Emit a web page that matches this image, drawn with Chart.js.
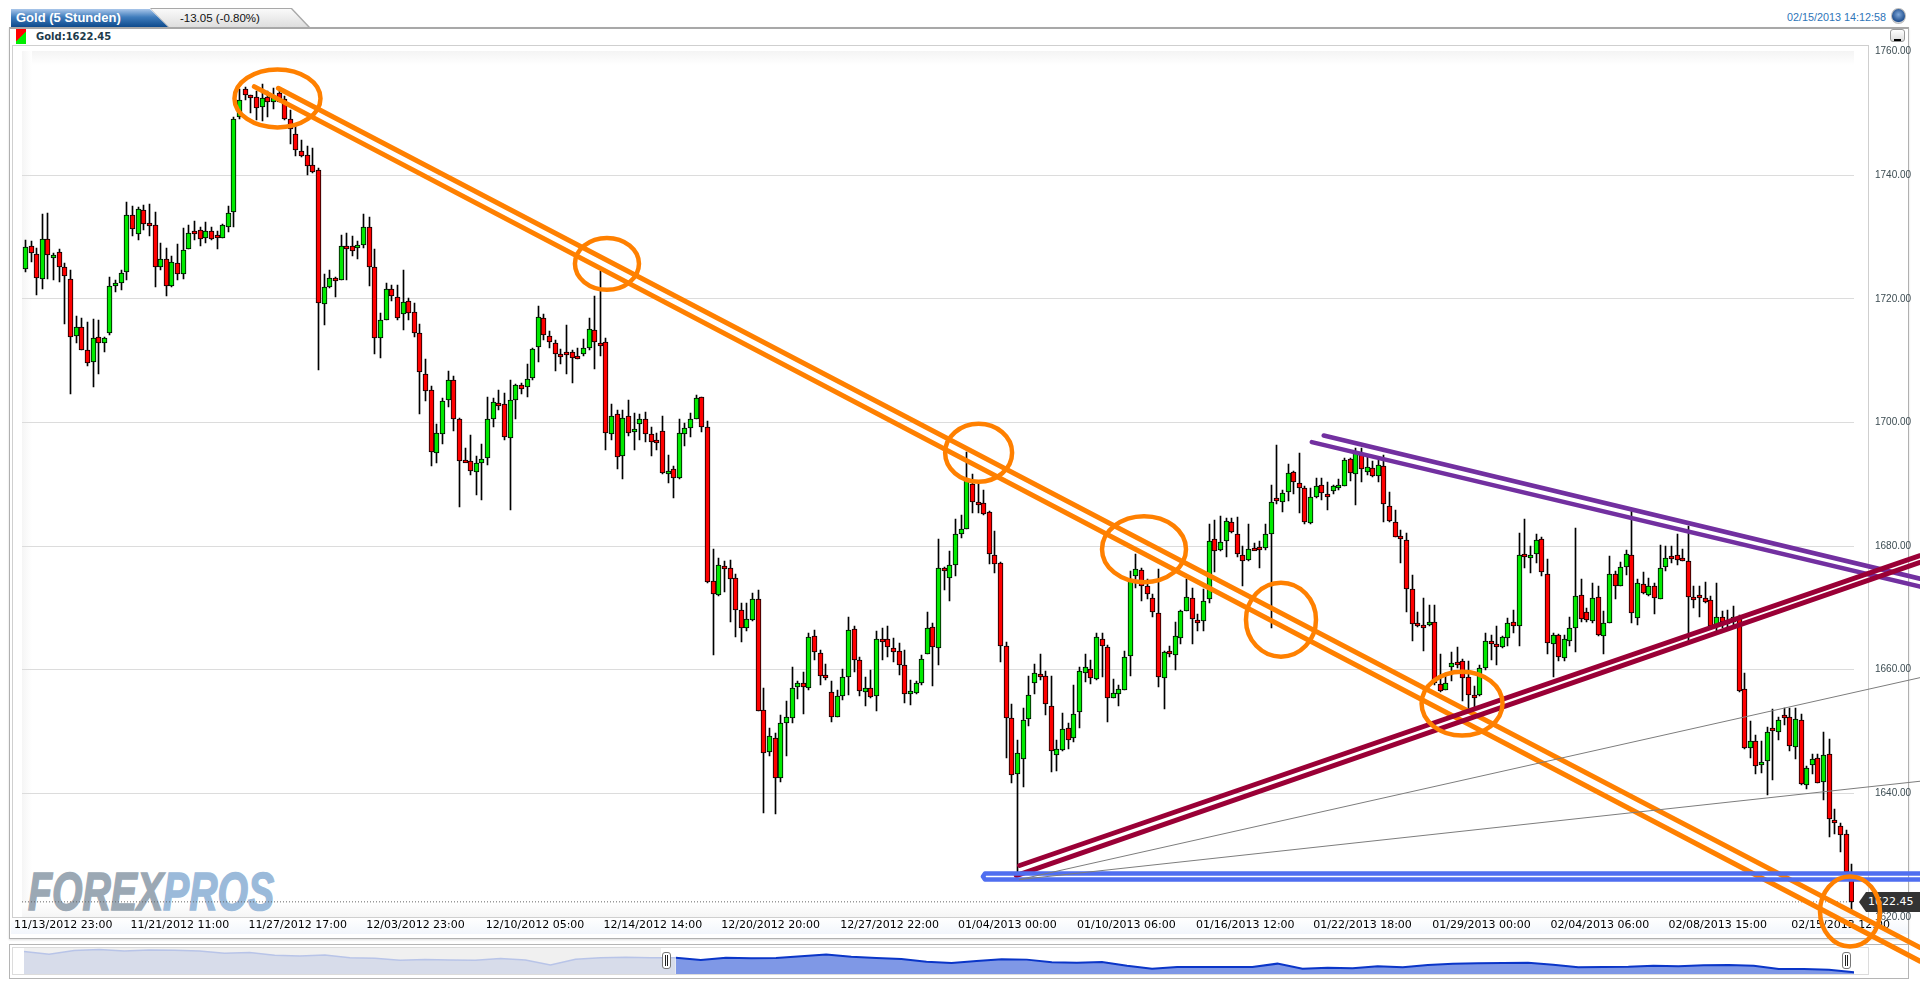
<!DOCTYPE html>
<html lang="de">
<head>
<meta charset="UTF-8">
<title>Gold (5 Stunden)</title>
<style>
html, body { margin: 0; padding: 0; background: #fff; width: 1920px; height: 987px; overflow: hidden; }
.abs { position: absolute; box-sizing: border-box; }
canvas { position: absolute; display: block; }
#tab1 { left: 11px; top: 9px; width: 157px; height: 18px; background: linear-gradient(#a9c6ea, #3f7cbc 45%, #0e4a8c); clip-path: polygon(0 0, 139px 0, 157px 18px, 0 18px); }
#tab2 { left: 150px; top: 8px; width: 160px; height: 19px; background: #a8a8a8; clip-path: polygon(0 0, 142px 0, 160px 19px, 18px 19px); }
#tab2 i { position: absolute; left: 1px; top: 1px; width: 157px; height: 18px; background: linear-gradient(#fafafa, #dedede); clip-path: polygon(0 0, 140px 0, 157px 18px, 18px 18px); }
.tabtxt { font-family: "Liberation Sans", sans-serif; white-space: nowrap; line-height: 18px; }
#plotTop { left: 22px; top: 51px; width: 1832px; height: 14px; background: linear-gradient(#f4f4f4, #fff); }
#plotLeft { left: 22px; top: 51px; width: 10px; height: 866px; background: linear-gradient(90deg, #f5f5f5, #fff); }
#plotBottom { left: 22px; top: 903px; width: 1832px; height: 14px; background: linear-gradient(#fff, #f5f5f5); }
#axisStrip { left: 11px; top: 918px; width: 1897px; height: 16px; background: linear-gradient(#fff, #f2f6fc); }
#tag { left: 1859px; top: 892px; width: 61px; height: 20px; background: #333; clip-path: polygon(0 50%, 7px 0, 100% 0, 100% 100%, 7px 100%); color: #fff; font: 11px/20px "DejaVu Sans", sans-serif; padding-left: 9px; }
.handle { width: 9px; height: 17px; top: 952px; background: #fff; border: 1px solid #777; border-radius: 3px; }
.handle::after { content: ""; position: absolute; left: 2px; top: 2px; width: 1px; height: 11px; border-left: 1px solid #222; border-right: 1px solid #222; }
</style>
</head>
<body>
<div class="abs" style="left:9px;top:27px;width:1900px;height:912px;border:1px solid #b0b0b0;border-top:2px solid #a8a8a8;box-shadow:0 1px 2px #ddd"></div>
<div class="abs" style="left:12px;top:45px;width:1857px;height:873px;border:1px solid #cfcfcf"></div>
<div class="abs" id="plotTop"></div>
<div class="abs" id="plotLeft"></div>
<div class="abs" id="plotBottom"></div>
<div class="abs" id="axisStrip"></div>
<div class="abs" id="tab2"><i></i></div>
<div class="abs" id="tab1"></div>
<div class="abs tabtxt" style="left:16px;top:9px;color:#fff;font-weight:bold;font-size:13px">Gold (5 Stunden)</div>
<div class="abs tabtxt" style="left:180px;top:9px;color:#111;font-size:11.5px">-13.05 (-0.80%)</div>
<div class="abs" style="left:16px;top:29px;width:10px;height:15px;background:linear-gradient(135deg,#f00 50%,#0e0 50%)"></div>
<div class="abs" style="left:36px;top:30px;font:bold 10px/13px 'DejaVu Sans',sans-serif;color:#1d3a4a;white-space:nowrap">Gold:1622.45</div>
<div class="abs" style="left:1787px;top:10px;font:10.8px/15px 'Liberation Sans',sans-serif;color:#2d74b8;white-space:nowrap">02/15/2013 14:12:58</div>
<div class="abs" style="left:1891px;top:8px;width:15px;height:16px;border-radius:50%;border:1px solid #bbb;background:radial-gradient(circle at 50% 40%,#7fa8da,#22508f 65%,#cfd6de 75%)"></div>
<div class="abs" style="left:1890px;top:29px;width:15px;height:13px;border:1px solid #999;border-radius:3px;background:linear-gradient(#fff,#ddd)"><div style="position:absolute;left:3px;top:9px;width:7px;height:2px;background:#000"></div></div>
<div class="abs" style="left:28px;top:866px;white-space:nowrap;font:italic bold 53px/52px 'Liberation Sans',sans-serif;transform-origin:0 0;transform:scaleX(0.74)"><span style="color:#9ba8b4;-webkit-text-stroke:1.5px #9ba8b4">FOREX</span><span style="color:#9bbada;-webkit-text-stroke:1.5px #9bbada">PROS</span></div>
<div class="abs" id="tag">1622.45</div>

<div class="abs" style="left:9px;top:944px;width:1900px;height:35px;border:1px solid #b5b5b5"></div>
<div class="abs" style="left:12px;top:947px;width:1857px;height:28px;border:1px solid #dcdcdc"></div>
<div class="abs" style="left:24px;top:948px;width:637px;height:26px;background:#f0f0f0"></div>
<canvas id="nav" width="1830" height="27" style="left:24px;top:947px"></canvas>
<div class="abs handle" style="left:662px"></div>
<div class="abs handle" style="left:1842px"></div>
<canvas id="chart" width="1920" height="987" style="left:0;top:0"></canvas>

<script src="https://cdn.jsdelivr.net/npm/chart.js"></script>
<script>
// candles, 5 hour bars
const opens = [
1724.8,1728.5,1727.2,1723.2,1729.7,1726.6,1727.5,1725.2,1723.2,1714.0,
1715.4,1711.7,1709.8,1713.8,1712.8,1714.4,1722.0,1722.6,1724.4,1733.6,
1730.5,1734.3,1732.3,1732.0,1725.1,1726.4,1722.0,1725.8,1724.0,1728.1,
1731.0,1731.2,1729.8,1731.0,1730.3,1729.9,1731.7,1734.0,1749.4,1754.0,
1753.0,1752.7,1751.0,1752.6,1751.9,1753.3,1752.4,1749.1,1746.7,1743.9,
1743.3,1741.6,1740.9,1719.2,1721.9,1723.4,1723.1,1728.6,1728.6,1728.2,
1728.7,1731.6,1725.1,1713.6,1716.6,1721.6,1720.3,1717.6,1719.7,1717.9,
1714.5,1707.9,1705.3,1695.1,1698.2,1703.6,1706.8,1700.6,1693.9,1693.8,
1692.0,1693.5,1694.3,1700.5,1703.1,1703.0,1697.5,1703.6,1706.0,1705.8,
1707.2,1712.2,1716.9,1714.0,1712.8,1711.1,1711.4,1711.4,1710.7,1711.1,
1712.1,1714.9,1712.9,1713.0,1698.2,1701.3,1694.6,1701.0,1698.6,1699.7,
1700.6,1698.2,1697.1,1698.6,1691.9,1692.5,1691.1,1698.2,1699.1,1700.6,
1704.1,1699.3,1674.4,1672.1,1676.8,1676.5,1674.8,1669.7,1666.8,1668.0,
1671.5,1653.5,1646.7,1648.9,1642.5,1651.4,1652.2,1657.2,1657.9,1657.1,
1665.4,1662.7,1659.2,1656.4,1652.4,1655.7,1658.9,1666.6,1661.5,1656.4,
1657.1,1655.7,1664.9,1665.0,1663.5,1663.0,1660.8,1656.0,1656.3,1657.9,
1662.6,1666.9,1663.5,1676.4,1674.8,1676.9,1682.0,1682.8,1690.1,1687.1,
1686.9,1685.5,1678.6,1677.3,1663.9,1652.2,1643.2,1645.6,1652.1,1657.8,
1659.3,1659.0,1654.2,1646.2,1647.0,1650.6,1648.9,1653.1,1659.5,1660.1,
1658.5,1665.0,1663.7,1655.4,1656.0,1656.8,1662.2,1675.1,1676.2,1673.6,
1671.6,1669.2,1658.7,1663.1,1662.4,1665.2,1669.5,1671.6,1668.1,1667.9,
1671.4,1681.2,1679.3,1680.8,1683.9,1682.0,1678.6,1677.8,1679.7,1679.8,
1679.7,1682.0,1687.8,1687.2,1688.8,1692.0,1690.2,1689.4,1683.7,1687.9,
1689.9,1688.5,1688.9,1689.4,1689.7,1694.1,1691.6,1694.8,1692.0,1692.6,
1691.3,1693.0,1686.5,1683.9,1681.6,1681.0,1673.1,1667.6,1667.3,1667.3,
1667.8,1657.7,1656.8,1660.4,1661.2,1661.4,1658.9,1655.9,1655.9,1660.3,
1664.7,1664.2,1663.6,1665.2,1667.7,1667.0,1678.7,1678.3,1678.7,1681.2,
1675.5,1664.2,1665.7,1661.9,1664.6,1666.8,1672.1,1669.4,1667.9,1671.8,
1665.5,1667.6,1675.5,1673.6,1676.7,1678.6,1668.3,1673.9,1672.1,1673.6,
1671.5,1676.6,1678.4,1678.5,1678.1,1677.6,1671.8,1672.1,1671.6,1671.3,
1667.3,1668.5,1667.9,1667.8,1668.6,1656.9,1647.4,1648.5,1644.6,1645.2,
1650.5,1649.9,1652.7,1652.4,1647.5,1651.9,1641.4,1644.6,1645.7,1641.8,
1646.4,1635.7,1634.8,1633.5,1627.2];
const closes = [
1728.4,1727.4,1723.3,1729.7,1727.1,1727.1,1725.1,1723.7,1713.9,1715.4,
1711.8,1709.6,1713.6,1712.8,1713.6,1722.1,1722.5,1724.2,1733.6,1731.3,
1734.5,1732.1,1732.1,1725.2,1726.4,1722.0,1725.9,1724.0,1727.9,1730.7,
1730.8,1729.7,1731.0,1729.7,1729.8,1732.0,1733.9,1749.1,1752.2,1752.9,
1752.7,1750.8,1752.5,1751.9,1752.5,1751.9,1749.1,1747.4,1744.1,1743.1,
1741.5,1740.6,1719.3,1721.9,1723.4,1722.9,1728.5,1728.4,1727.7,1728.7,
1731.6,1725.2,1713.6,1716.6,1721.6,1720.4,1716.9,1719.5,1717.7,1714.4,
1708.2,1705.1,1695.2,1698.3,1703.5,1706.9,1700.6,1693.7,1693.7,1692.1,
1693.5,1694.1,1700.6,1703.3,1702.9,1697.6,1703.6,1706.1,1705.4,1707.0,
1711.9,1717.1,1714.1,1713.0,1711.1,1710.9,1711.1,1710.5,1710.5,1712.1,
1715.1,1713.0,1712.8,1698.3,1701.0,1694.4,1700.8,1698.3,1699.0,1700.6,
1698.1,1696.9,1697.0,1691.9,1692.2,1691.1,1698.3,1699.1,1700.6,1704.0,
1699.2,1674.2,1672.2,1676.9,1676.4,1674.7,1669.6,1666.8,1668.2,1671.5,
1653.4,1646.6,1649.3,1642.5,1651.4,1652.4,1657.0,1657.9,1657.2,1665.3,
1662.8,1659.0,1659.1,1652.4,1655.7,1658.9,1666.5,1661.5,1656.5,1657.1,
1655.6,1665.0,1664.8,1663.6,1662.8,1660.7,1656.0,1656.6,1657.8,1661.8,
1666.8,1663.7,1676.5,1676.0,1676.9,1682.0,1682.8,1690.8,1687.2,1687.0,
1685.2,1678.7,1677.1,1663.9,1652.2,1642.9,1646.6,1651.9,1655.9,1659.5,
1659.2,1654.4,1646.9,1647.2,1650.4,1648.7,1652.9,1659.8,1660.4,1658.6,
1665.3,1663.8,1655.4,1656.3,1656.9,1662.1,1674.6,1676.3,1673.6,1672.3,
1669.3,1658.8,1662.9,1662.6,1665.4,1669.5,1671.8,1668.2,1668.0,1671.1,
1680.9,1679.2,1680.7,1684.0,1682.3,1678.7,1677.6,1679.6,1679.6,1679.5,
1682.0,1687.2,1687.4,1688.6,1691.8,1690.4,1689.4,1683.9,1688.0,1689.7,
1688.6,1688.4,1689.7,1689.9,1693.9,1691.8,1695.0,1692.5,1692.8,1691.4,
1693.2,1686.8,1684.0,1681.5,1681.2,1673.1,1667.4,1667.0,1667.2,1667.8,
1657.9,1656.5,1657.9,1661.1,1661.0,1658.6,1655.9,1655.8,1660.3,1664.7,
1664.1,1663.7,1665.3,1667.6,1667.0,1678.5,1678.6,1678.6,1681.0,1675.8,
1664.4,1665.7,1662.1,1664.9,1666.8,1671.9,1668.2,1668.0,1671.6,1665.7,
1667.6,1675.5,1673.6,1676.6,1678.7,1669.2,1674.0,1672.4,1673.5,1671.6,
1676.4,1678.1,1678.3,1677.8,1677.7,1671.8,1671.7,1671.7,1671.0,1667.0,
1668.6,1667.7,1667.8,1668.6,1656.5,1647.4,1648.5,1644.5,1645.0,1650.0,
1650.1,1651.9,1652.2,1647.7,1652.0,1641.5,1644.1,1645.6,1641.7,1646.2,
1635.9,1635.4,1633.3,1627.2,1622.45];
const highs = [
1729.5,1729.3,1728.2,1733.8,1733.9,1727.4,1728.0,1725.8,1724.7,1717.3,
1716.9,1716.2,1716.8,1716.5,1713.8,1723.6,1723.1,1724.6,1735.6,1735.0,
1734.9,1735.2,1735.4,1734.0,1729.1,1728.2,1726.9,1728.8,1731.4,1731.9,
1732.6,1731.7,1732.4,1731.7,1730.9,1732.1,1735.0,1749.5,1753.9,1754.3,
1753.0,1753.6,1754.8,1753.6,1754.1,1753.8,1752.8,1750.6,1748.2,1745.7,
1744.8,1744.4,1741.2,1724.0,1724.6,1723.6,1730.4,1730.7,1730.2,1729.3,
1733.7,1733.2,1728.0,1717.7,1722.6,1722.3,1722.3,1724.6,1720.1,1719.4,
1716.0,1710.2,1705.9,1699.7,1704.0,1708.3,1707.6,1700.8,1695.9,1697.9,
1694.5,1696.6,1704.2,1704.0,1705.3,1704.7,1706.8,1706.3,1706.4,1709.4,
1712.1,1718.9,1717.6,1714.8,1713.4,1711.9,1715.8,1711.8,1712.1,1713.5,
1716.9,1720.4,1724.5,1713.6,1703.0,1702.1,1702.0,1703.7,1701.6,1701.3,
1701.7,1699.3,1698.3,1701.0,1694.7,1693.0,1700.6,1699.9,1701.6,1704.5,
1704.2,1700.3,1679.5,1678.0,1677.6,1677.8,1675.5,1670.8,1670.8,1672.4,
1672.9,1657.1,1650.6,1649.8,1652.6,1655.0,1660.4,1658.2,1659.7,1665.9,
1666.5,1663.2,1660.9,1658.2,1656.8,1660.1,1668.5,1667.1,1662.1,1658.9,
1659.9,1666.2,1666.7,1667.0,1665.2,1664.3,1663.2,1658.4,1658.2,1662.4,
1669.3,1667.6,1681.1,1676.7,1679.2,1684.4,1685.1,1695.3,1691.7,1690.5,
1689.0,1685.6,1682.4,1677.4,1664.5,1654.5,1648.7,1653.8,1659.0,1661.0,
1662.6,1659.8,1659.0,1648.6,1653.0,1651.4,1657.6,1660.4,1662.6,1661.5,
1665.9,1665.9,1664.0,1658.5,1657.6,1663.0,1675.9,1678.8,1676.5,1674.6,
1672.2,1676.3,1663.0,1663.8,1667.8,1669.7,1674.6,1673.3,1669.0,1673.1,
1683.6,1684.3,1684.9,1684.5,1684.5,1684.7,1680.0,1683.5,1680.5,1680.9,
1683.6,1689.9,1696.3,1689.1,1693.3,1692.2,1695.0,1689.7,1689.4,1691.1,
1691.0,1690.4,1689.9,1690.8,1694.3,1694.3,1695.9,1695.9,1694.5,1693.7,
1694.0,1694.8,1688.7,1685.8,1682.6,1682.1,1675.3,1669.3,1671.6,1670.5,
1670.5,1662.6,1659.5,1662.9,1663.7,1661.7,1661.4,1657.4,1660.7,1665.9,
1665.7,1667.0,1665.5,1668.4,1669.7,1682.1,1684.4,1680.0,1681.9,1681.5,
1677.9,1665.9,1665.8,1665.7,1668.6,1682.9,1674.7,1670.0,1674.0,1673.5,
1669.5,1678.4,1675.9,1677.4,1679.4,1685.6,1674.6,1675.8,1674.8,1674.0,
1680.1,1680.0,1680.0,1682.0,1679.6,1683.3,1673.6,1673.6,1674.2,1671.9,
1674.0,1669.5,1669.7,1670.3,1668.9,1659.5,1651.7,1649.4,1648.4,1650.7,
1653.6,1652.4,1653.8,1653.8,1653.8,1652.8,1644.4,1646.3,1646.3,1649.9,
1648.8,1637.4,1635.2,1634.1,1628.6];
const lows = [
1724.4,1726.0,1720.6,1721.6,1723.2,1723.1,1722.8,1716.0,1704.6,1712.8,
1711.7,1709.1,1705.7,1707.9,1711.4,1714.2,1721.1,1721.4,1723.1,1730.1,
1729.5,1731.2,1730.1,1721.9,1724.6,1720.4,1721.9,1723.1,1723.2,1728.0,
1729.6,1728.5,1729.0,1729.6,1728.1,1729.8,1730.8,1731.7,1749.1,1752.1,
1750.0,1748.9,1748.7,1749.5,1750.7,1751.8,1749.0,1745.1,1743.1,1743.0,
1740.1,1740.4,1708.5,1715.8,1721.7,1720.3,1723.0,1723.0,1726.9,1726.4,
1728.2,1722.0,1711.0,1710.5,1716.5,1719.6,1716.5,1714.9,1716.5,1713.9,
1701.3,1703.4,1692.9,1693.5,1696.6,1702.5,1698.6,1686.3,1693.6,1691.5,
1688.3,1687.4,1693.2,1699.3,1702.0,1697.2,1685.8,1700.5,1704.6,1704.2,
1706.8,1709.8,1713.4,1712.1,1708.3,1709.5,1707.9,1706.4,1710.2,1710.7,
1711.8,1708.7,1710.7,1695.6,1697.1,1692.4,1690.9,1697.8,1695.5,1697.2,
1696.9,1694.6,1695.6,1691.7,1690.2,1687.8,1690.9,1696.2,1697.6,1700.5,
1698.4,1674.0,1662.4,1671.9,1672.6,1667.7,1665.3,1664.5,1666.3,1667.9,
1653.3,1636.9,1646.0,1636.6,1641.8,1646.1,1651.4,1655.3,1652.8,1656.8,
1661.6,1657.6,1658.3,1651.5,1652.3,1655.1,1655.9,1659.6,1655.7,1654.1,
1655.4,1653.4,1661.6,1662.1,1661.3,1659.2,1654.6,1654.3,1656.0,1657.6,
1662.5,1657.3,1660.7,1672.9,1671.1,1675.1,1681.3,1682.7,1685.3,1685.3,
1685.1,1677.1,1675.6,1661.3,1645.7,1641.7,1626.7,1641.0,1650.9,1656.0,
1658.4,1652.6,1643.5,1643.7,1646.9,1647.2,1648.3,1650.6,1658.0,1657.7,
1658.4,1658.8,1651.5,1655.4,1654.1,1656.7,1659.0,1673.2,1671.1,1671.4,
1668.6,1657.2,1653.6,1662.1,1659.9,1664.1,1669.5,1664.1,1666.3,1666.2,
1670.8,1675.8,1679.2,1678.3,1682.1,1678.3,1673.5,1677.6,1679.4,1676.5,
1679.4,1666.8,1686.8,1685.5,1687.3,1688.5,1685.4,1683.5,1683.6,1687.8,
1687.5,1685.8,1688.5,1689.1,1689.7,1690.6,1686.6,1690.3,1691.5,1691.2,
1690.3,1683.9,1683.9,1681.4,1677.2,1669.3,1664.6,1666.9,1663.0,1667.1,
1657.6,1656.4,1656.7,1658.2,1660.3,1654.9,1653.6,1654.0,1655.7,1660.0,
1661.5,1660.8,1663.5,1663.8,1665.9,1663.9,1676.4,1675.7,1677.2,1675.2,
1662.6,1658.8,1661.4,1661.4,1663.8,1662.8,1667.8,1667.8,1667.6,1665.5,
1662.6,1667.5,1671.4,1673.5,1675.4,1667.6,1667.3,1672.3,1671.9,1669.0,
1671.4,1675.9,1677.3,1677.0,1677.6,1664.6,1670.0,1668.6,1670.8,1666.8,
1665.9,1666.8,1666.8,1667.3,1656.4,1647.1,1645.7,1643.1,1643.3,1639.8,
1642.1,1648.7,1651.1,1646.9,1645.5,1641.4,1640.7,1643.1,1641.6,1639.0,
1633.0,1633.4,1630.5,1627.1,1621.2];

const lastPrice = 1622.45;
const priceTicks = [1760, 1740, 1720, 1700, 1680, 1660, 1640, 1620];
const timeTickBars = [6.8, 27.5, 48.4, 69.3, 90.5, 111.4, 132.3, 153.4, 174.3, 195.4, 216.5, 237.3, 258.4, 279.4, 300.3, 322.1];
const timeTickLabels = ['11/13/2012 23:00', '11/21/2012 11:00', '11/27/2012 17:00', '12/03/2012 23:00', '12/10/2012 05:00', '12/14/2012 14:00', '12/20/2012 20:00', '12/27/2012 22:00', '01/04/2013 00:00', '01/10/2013 06:00', '01/16/2013 12:00', '01/22/2013 18:00', '01/29/2013 00:00', '02/04/2013 06:00', '02/08/2013 15:00', '02/15/2013 12:00'];

// hand drawn trend lines: [bar, price] pairs
const orangeUpper = [[44.97, 1754.07], [336.19, 1615.07]];
const orangeLower = [[40.70, 1754.33], [336.19, 1612.85]];
const crimsonUpper = [[176.46, 1628.33], [336.19, 1678.45]];
const crimsonLower = [[175.87, 1626.71], [336.19, 1677.36]];
const purpleUpper = [[230.41, 1697.90], [336.19, 1674.73]];
const purpleLower = [[228.30, 1696.83], [336.19, 1673.44]];
const blueChannel = [[336.19, 1627.03], [170.32, 1627.03], [169.96, 1626.55], [170.32, 1626.06], [336.19, 1626.06]];
const grayUpper = [[176.46, 1626.06], [336.19, 1658.72]];
const grayLower = [[176.46, 1626.06], [336.19, 1641.96]];

// hand drawn circles
const circleBars = [44.81, 103.26, 169.19, 198.53, 222.83, 254.95, 323.77];
const circlePrices = [1752.42, 1725.66, 1695.10, 1679.50, 1668.10, 1654.52, 1620.89];
const circleBarRadius = [7.63, 5.68, 5.94, 7.45, 6.21, 7.18, 5.32];
const circlePriceRadius = [4.69, 4.20, 4.69, 5.34, 5.98, 5.17, 5.66];

// overview strip below the chart
const navPrices = [
1771.3,1752.4,1778.4,1785.5,1776,1783,1780.7,1776,1759.5,1765.4,
1745.3,1740.6,1747.7,1728.7,1724,1709.9,1714.6,1712.2,1709.9,1721.7,
1712.2,1676.8,1716.9,1728.7,1731.1,1728.7,1728.7,1712.2,1728.7,1724,
1726.4,1738.2,1750,1735.8,1726.4,1719.3,1700.4,1691,1705.1,1716.9,
1714.6,1695.7,1693.3,1698,1672,1650.8,1662.6,1662.6,1662.6,1662.6,
1686.2,1650.8,1657.9,1653.1,1667.3,1660.2,1676.8,1686.2,1688.6,1691,
1693.3,1679.1,1660.2,1662.6,1665,1672,1667.3,1674.4,1676.8,1672,
1648.4,1648.4,1643.7,1624.8];
const navSplit = 26;

const bars = opens.map((_, i) => i);
const bodyColors = opens.map((o, i) => closes[i] >= o ? '#00ea00' : '#ff0000');

function lineSet(points, color, width) {
  return {
    type: 'line',
    data: points.map(p => ({ x: p[0], y: p[1] })),
    borderColor: color,
    borderWidth: width,
    pointRadius: 0,
    tension: 0,
    clip: false,
    order: 10,
    borderCapStyle: 'round',
    borderJoinStyle: 'round'
  };
}

// keeps wicks and bodies on whole pixels, the original is not anti aliased
const snapBars = {
  id: 'snapBars',
  afterDatasetsUpdate(chart) {
    chart.data.datasets.forEach((ds, n) => {
      const meta = chart.getDatasetMeta(n);
      if (meta.type !== 'bar') return;
      meta.data.forEach(el => {
        el.x = Math.round(el.x) + 0.5;
        el.y = Math.round(el.y);
        el.base = Math.round(el.base);
        if (ds.minBody && Math.abs(el.base - el.y) < ds.minBody) el.base = el.y + ds.minBody;
      });
    });
  }
};

const circles = {
  id: 'circles',
  afterDatasetsDraw(chart) {
    const x = chart.scales.x, y = chart.scales.y, ctx = chart.ctx;
    ctx.save();
    ctx.strokeStyle = '#ff8000';
    ctx.lineWidth = 4.5;
    circleBars.forEach((b, i) => {
      const cx = x.getPixelForValue(b), cy = y.getPixelForValue(circlePrices[i]);
      const rx = Math.abs(x.getPixelForValue(b + circleBarRadius[i]) - cx);
      const ry = Math.abs(y.getPixelForValue(circlePrices[i] + circlePriceRadius[i]) - cy);
      ctx.beginPath();
      ctx.ellipse(cx, cy, rx, ry, 0, 0, Math.PI * 2);
      ctx.stroke();
    });
    ctx.restore();
  }
};

new Chart(document.getElementById('chart'), {
  type: 'bar',
  plugins: [snapBars, circles],
  data: {
    datasets: [
      {
        data: bars.map(i => ({ x: i, y: [lows[i], highs[i]] })),
        backgroundColor: '#000',
        barThickness: 1,
        grouped: false,
        order: 30
      },
      {
        data: bars.map(i => ({ x: i, y: [opens[i], closes[i]] })),
        backgroundColor: bodyColors,
        borderColor: '#000',
        borderWidth: 1,
        borderSkipped: false,
        barThickness: 5,
        minBody: 3,
        grouped: false,
        order: 20
      },
      Object.assign(lineSet([[-0.51, lastPrice], [324.48, lastPrice]], '#666', 1), { borderDash: [1, 2], order: 40, borderCapStyle: 'butt' }),
      lineSet(grayUpper, '#7d7d7d', 1),
      lineSet(grayLower, '#7d7d7d', 1),
      lineSet(blueChannel, '#4f6ef0', 4.5),
      lineSet(crimsonUpper, '#9a0036', 5),
      lineSet(crimsonLower, '#9a0036', 5),
      lineSet(purpleUpper, '#7230a0', 4.5),
      lineSet(purpleLower, '#7230a0', 4.5),
      lineSet(orangeUpper, '#ff8000', 5),
      lineSet(orangeLower, '#ff8000', 5)
    ]
  },
  options: {
    responsive: false,
    animation: false,
    events: [],
    layout: { padding: { left: 22, top: 51.6, right: 0, bottom: 0 } },
    plugins: { legend: { display: false }, tooltip: { enabled: false } },
    scales: {
      x: {
        type: 'linear',
        min: -0.51,
        max: 324.48,
        offset: false,
        grid: { display: false, drawTicks: false, tickLength: 0 },
        border: { display: false },
        afterBuildTicks(scale) { scale.ticks = timeTickBars.map(v => ({ value: v })); },
        afterFit(scale) { scale.height = 70; scale.paddingLeft = 0; scale.paddingRight = 0; },
        ticks: {
          autoSkip: false,
          maxRotation: 0,
          minRotation: 0,
          padding: 2,
          color: '#000',
          font: { family: 'DejaVu Sans', size: 11 },
          callback: (v, i) => timeTickLabels[i]
        }
      },
      y: {
        position: 'right',
        min: 1620,
        max: 1760,
        offset: false,
        afterBuildTicks(scale) { scale.ticks = priceTicks.map(v => ({ value: v })); },
        afterFit(scale) { scale.width = 66; scale.paddingTop = 0; scale.paddingBottom = 0; },
        grid: {
          drawTicks: false,
          tickLength: 0,
          color: c => (c.tick && (c.tick.value === 1760 || c.tick.value === 1620)) ? 'rgba(0,0,0,0)' : '#dcdcdc'
        },
        border: { display: false },
        ticks: {
          padding: 21,
          crossAlign: 'near',
          color: '#3c4c52',
          font: { family: 'Liberation Sans', size: 10 },
          callback: v => v.toFixed(2)
        }
      }
    }
  }
});

new Chart(document.getElementById('nav'), {
  type: 'line',
  data: {
    labels: navPrices.map((_, i) => i),
    datasets: [
      {
        data: navPrices.map((v, i) => i <= navSplit ? v : null),
        borderColor: '#b8c4e8',
        backgroundColor: '#d7dcea',
        borderWidth: 1.5,
        pointRadius: 0,
        tension: 0,
        fill: 'start'
      },
      {
        data: navPrices.map((v, i) => i >= navSplit ? v : null),
        borderColor: '#0a35c8',
        backgroundColor: '#7f98e6',
        borderWidth: 2,
        pointRadius: 0,
        tension: 0,
        fill: 'start'
      }
    ]
  },
  options: {
    responsive: false,
    animation: false,
    events: [],
    layout: { padding: 0 },
    plugins: { legend: { display: false }, tooltip: { enabled: false } },
    scales: {
      x: { display: false, offset: false },
      y: { display: false, min: 1612.8, max: 1804 }
    }
  }
});
</script>
</body>
</html>
